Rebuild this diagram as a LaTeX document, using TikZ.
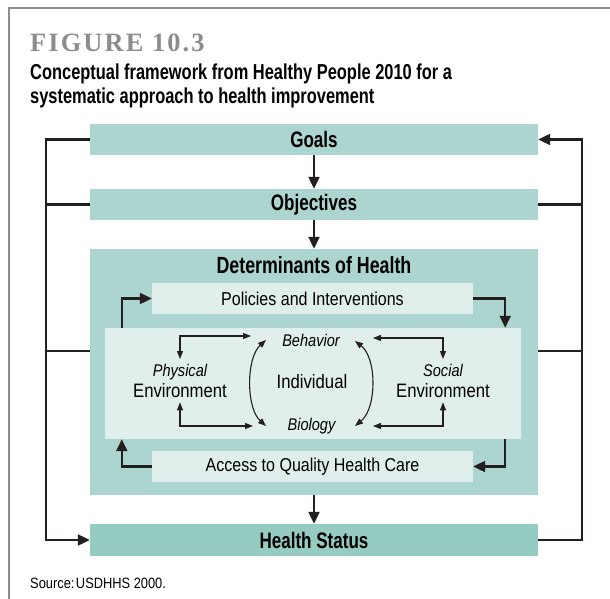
\documentclass[tikz,border=0pt]{standalone}
\usepackage{fontspec}
\setmainfont[FakeStretch=0.86]{Liberation Sans}
\newfontfamily\headfont[FakeStretch=0.76]{Liberation Sans}
\newfontfamily\figfont[LetterSpace=8]{Liberation Serif}
\usetikzlibrary{arrows.meta}

\definecolor{tealbox}{HTML}{ACD5D0}
\definecolor{statusbox}{HTML}{96CBC1}
\definecolor{palebox}{HTML}{E1EFEC}
\definecolor{framegray}{HTML}{8C8C8C}
\definecolor{ink}{HTML}{231F20}

\begin{document}
\begin{tikzpicture}[x=1bp,y=-1bp,
    stagebox/.style={fill=tealbox, minimum width=448bp, minimum height=31bp, inner sep=0pt,
      font=\headfont\bfseries\fontsize{22.5}{23}\selectfont},
    lightbox/.style={fill=palebox, inner sep=0pt, font=\fontsize{18.7}{20}\selectfont},
    flow/.style={draw=ink, line width=2.2bp, -{Triangle[length=12bp,width=11bp]}},
    link/.style={draw=ink, line width=2.2bp},
    pair/.style={draw=ink, line width=1.1bp,
      {Triangle[length=8bp,width=6bp]}-{Triangle[length=8bp,width=6bp]}},
    ital/.style={font=\itshape\fontsize{17}{18}\selectfont, inner xsep=0pt, inner ysep=5bp},
    plain/.style={font=\fontsize{19.5}{20}\selectfont, inner xsep=0pt, inner ysep=5bp}]
  \useasboundingbox (0,0) rectangle (610,599);
  \draw[framegray, line width=2bp] (8.5,599) -- (8.5,8.5) -- (610,8.5);

  % heading
  \node[anchor=base west, inner sep=0pt, text=framegray,
    font=\figfont\bfseries\fontsize{26.5}{26}\selectfont] (fignum) at (30,52) {FIGURE 10.3};
  \node[anchor=base west, inner sep=0pt, align=left,
    font=\headfont\bfseries\fontsize{21.7}{25}\selectfont] (caption) at (30,104)
    {Conceptual framework from Healthy People 2010 for a\\systematic approach to health improvement};

  % main stages
  \node[stagebox] (goals) at (314,139.5) {Goals};
  \node[stagebox] (objectives) at (314,204.5) {Objectives};
  \node[fill=tealbox, minimum width=448bp, minimum height=246bp, inner sep=0pt] (determinants) at (314,372) {};
  \node[inner sep=0pt, font=\headfont\bfseries\fontsize{23.5}{24}\selectfont] (dettitle) at (314,265) {Determinants of Health};
  \node[stagebox, fill=statusbox, minimum height=32bp] (status) at (314,540) {Health Status};

  % inside the determinants
  \node[lightbox, minimum width=321bp, minimum height=31bp] (policies) at (312.5,298.5) {Policies and Interventions};
  \node[lightbox, minimum width=416bp, minimum height=111bp] (core) at (313,383.5) {};
  \node[lightbox, minimum width=321bp, minimum height=31bp] (access) at (312.5,466.5) {Access to Quality Health Care};

  \node[ital, anchor=base] (physlabel) at (180,376.5) {Physical};
  \node[plain, anchor=base] (physical) at (180,397) {Environment};
  \node[ital, anchor=base] (soclabel) at (443,376.5) {Social};
  \node[plain, anchor=base] (social) at (443,397) {Environment};
  \node[plain, inner sep=0pt] (individual) at (312,381.5) {Individual};
  \node[ital, inner sep=0pt] (behavior) at (311,340) {Behavior};
  \node[ital, inner sep=0pt] (biology) at (311.5,426) {Biology};

  \node[anchor=base west, inner sep=0pt, font=\fontsize{15}{15}\selectfont] (source) at (30,588) {Source:\hspace{1.5bp}USDHHS 2000.};

  % outer loop
  \coordinate (leftrail) at (46,0);
  \coordinate (rightrail) at (582,0);
  \coordinate (detleft) at (90,351);
  \coordinate (detright) at (538,351);
  \draw[flow] (goals.west) -- (goals.west -| leftrail) -- (status.west -| leftrail) -- (status.west);
  \draw[link] (objectives.west) -- (objectives.west -| leftrail);
  \draw[link] (detleft) -- (detleft -| leftrail);
  \draw[flow] (status.east) -- (status.east -| rightrail) -- (goals.east -| rightrail) -- (goals.east);
  \draw[link] (objectives.east) -- (objectives.east -| rightrail);
  \draw[link] (detright) -- (detright -| rightrail);

  \draw[flow] (goals) -- (objectives);
  \draw[flow] (objectives) -- (determinants);
  \draw[flow] (determinants) -- (status);

  % cycle round the core
  \draw[flow] ([xshift=17bp]core.north west) |- (policies.west);
  \draw[flow] (policies.east) -| ([xshift=-16bp]core.north east);
  \draw[flow] ([xshift=-16bp]core.south east) |- (access.east);
  \draw[flow] (access.west) -| ([xshift=17bp]core.south west);

  % links between the factors
  \coordinate (phystop) at (251,336);
  \coordinate (physbot) at (253,426);
  \coordinate (soctop) at (373,338);
  \coordinate (socbot) at (373,426);
  \coordinate (behleft) at (266,340);
  \coordinate (bioleft) at (266,426);
  \coordinate (behright) at (355,341);
  \coordinate (bioright) at (355,426);
  \draw[pair] (physlabel.north) |- (phystop);
  \draw[pair] (physical.south) |- (physbot);
  \draw[pair] (soclabel.north) |- (soctop);
  \draw[pair] (social.south) |- (socbot);
  \draw[pair] (behleft) .. controls (246,358) and (246,408) .. (bioleft);
  \draw[pair] (behright) .. controls (377,358) and (377,408) .. (bioright);
\end{tikzpicture}
\end{document}
